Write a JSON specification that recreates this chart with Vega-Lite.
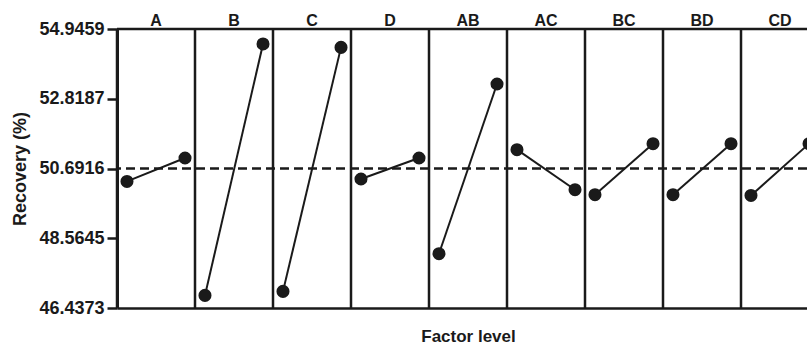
{
  "$schema": "https://vega.github.io/schema/vega-lite/v6.json",
  "autosize": {"type": "none"},
  "padding": {"left": 117, "top": 29, "right": 0, "bottom": 37},
  "width": 690,
  "height": 279,
  "background": "white",
  "view": {"stroke": null},
  "config": {
    "font": "Liberation Sans",
    "axis": {"grid": false}
  },
  "datasets": {
    "effects": [
      {"panel": "A", "level": -1, "recovery": 50.298},
      {"panel": "A", "level": 1, "recovery": 51.012},
      {"panel": "B", "level": -1, "recovery": 46.822},
      {"panel": "B", "level": 1, "recovery": 54.489},
      {"panel": "C", "level": -1, "recovery": 46.944},
      {"panel": "C", "level": 1, "recovery": 54.385},
      {"panel": "D", "level": -1, "recovery": 50.371},
      {"panel": "D", "level": 1, "recovery": 51.012},
      {"panel": "AB", "level": -1, "recovery": 48.093},
      {"panel": "AB", "level": 1, "recovery": 53.269},
      {"panel": "AC", "level": -1, "recovery": 51.265},
      {"panel": "AC", "level": 1, "recovery": 50.045},
      {"panel": "BC", "level": -1, "recovery": 49.893},
      {"panel": "BC", "level": 1, "recovery": 51.448},
      {"panel": "BD", "level": -1, "recovery": 49.893},
      {"panel": "BD", "level": 1, "recovery": 51.448},
      {"panel": "CD", "level": -1, "recovery": 49.87},
      {"panel": "CD", "level": 1, "recovery": 51.448}
    ],
    "panels": [
      {"panel": "A"}, {"panel": "B"}, {"panel": "C"}, {"panel": "D"}, {"panel": "AB"},
      {"panel": "AC"}, {"panel": "BC"}, {"panel": "BD"}, {"panel": "CD"}
    ],
    "refs": [
      {"kind": "top", "value": 54.9459},
      {"kind": "mean", "value": 50.6916}
    ]
  },
  "layer": [
    {
      "data": {"name": "panels"},
      "mark": {"type": "rule", "color": "#1a1a1a", "strokeWidth": 2.5},
      "encoding": {
        "x": {
          "field": "panel", "type": "nominal", "bandPosition": 0,
          "scale": {"domain": ["A", "B", "C", "D", "AB", "AC", "BC", "BD", "CD"], "range": [0, 702], "paddingInner": 0, "paddingOuter": 0},
          "axis": {
            "orient": "bottom", "labels": false, "ticks": false,
            "domainColor": "#1a1a1a", "domainWidth": 2.5,
            "title": "Factor level", "titleFont": "Liberation Sans", "titleFontSize": 17, "titleFontWeight": "bold",
            "titleColor": "#1a1a1a", "titlePadding": 20
          }
        }
      }
    },
    {
      "data": {"name": "panels"},
      "mark": {"type": "text", "font": "Liberation Sans", "fontSize": 16, "fontWeight": "bold", "color": "#1a1a1a", "baseline": "alphabetic", "dy": -3},
      "encoding": {
        "x": {"field": "panel", "type": "nominal"},
        "y": {"datum": 54.9459, "type": "quantitative"},
        "text": {"field": "panel"}
      }
    },
    {
      "data": {"name": "refs"},
      "transform": [{"filter": "datum.kind === 'top'"}],
      "mark": {"type": "rule", "color": "#1a1a1a", "strokeWidth": 2.5},
      "encoding": {"y": {"field": "value", "type": "quantitative"}}
    },
    {
      "data": {"name": "refs"},
      "transform": [{"filter": "datum.kind === 'mean'"}],
      "mark": {"type": "rule", "color": "#1a1a1a", "strokeWidth": 2.5, "strokeDash": [9, 5]},
      "encoding": {"y": {"field": "value", "type": "quantitative"}}
    },
    {
      "data": {"name": "effects"},
      "mark": {"type": "line", "color": "#1a1a1a", "strokeWidth": 2},
      "encoding": {
        "x": {"field": "panel", "type": "nominal"},
        "xOffset": {"field": "level", "type": "ordinal", "scale": {"type": "point", "domain": [-1, 1], "padding": 0.172}},
        "y": {"field": "recovery", "type": "quantitative"},
        "detail": {"field": "panel"}
      }
    },
    {
      "data": {"name": "effects"},
      "mark": {"type": "point", "shape": "circle", "filled": true, "opacity": 1, "color": "#1a1a1a", "size": 170},
      "encoding": {
        "x": {"field": "panel", "type": "nominal"},
        "xOffset": {"field": "level", "type": "ordinal", "scale": {"type": "point", "domain": [-1, 1], "padding": 0.172}},
        "y": {
          "field": "recovery", "type": "quantitative",
          "scale": {"domain": [46.4373, 54.9459], "nice": false, "zero": false},
          "axis": {
            "values": [46.4373, 48.5645, 50.6916, 52.8187, 54.9459],
            "format": ".4f",
            "domainColor": "#1a1a1a", "domainWidth": 3,
            "tickColor": "#1a1a1a", "tickWidth": 2.5, "tickSize": 10,
            "labelFont": "Liberation Sans", "labelFontSize": 18, "labelFontWeight": "bold", "labelColor": "#1a1a1a",
            "labelPadding": 3,
            "title": "Recovery (%)", "titleFont": "Liberation Sans", "titleFontSize": 18, "titleFontWeight": "bold",
            "titleColor": "#1a1a1a", "titlePadding": 9
          }
        }
      }
    }
  ]
}
